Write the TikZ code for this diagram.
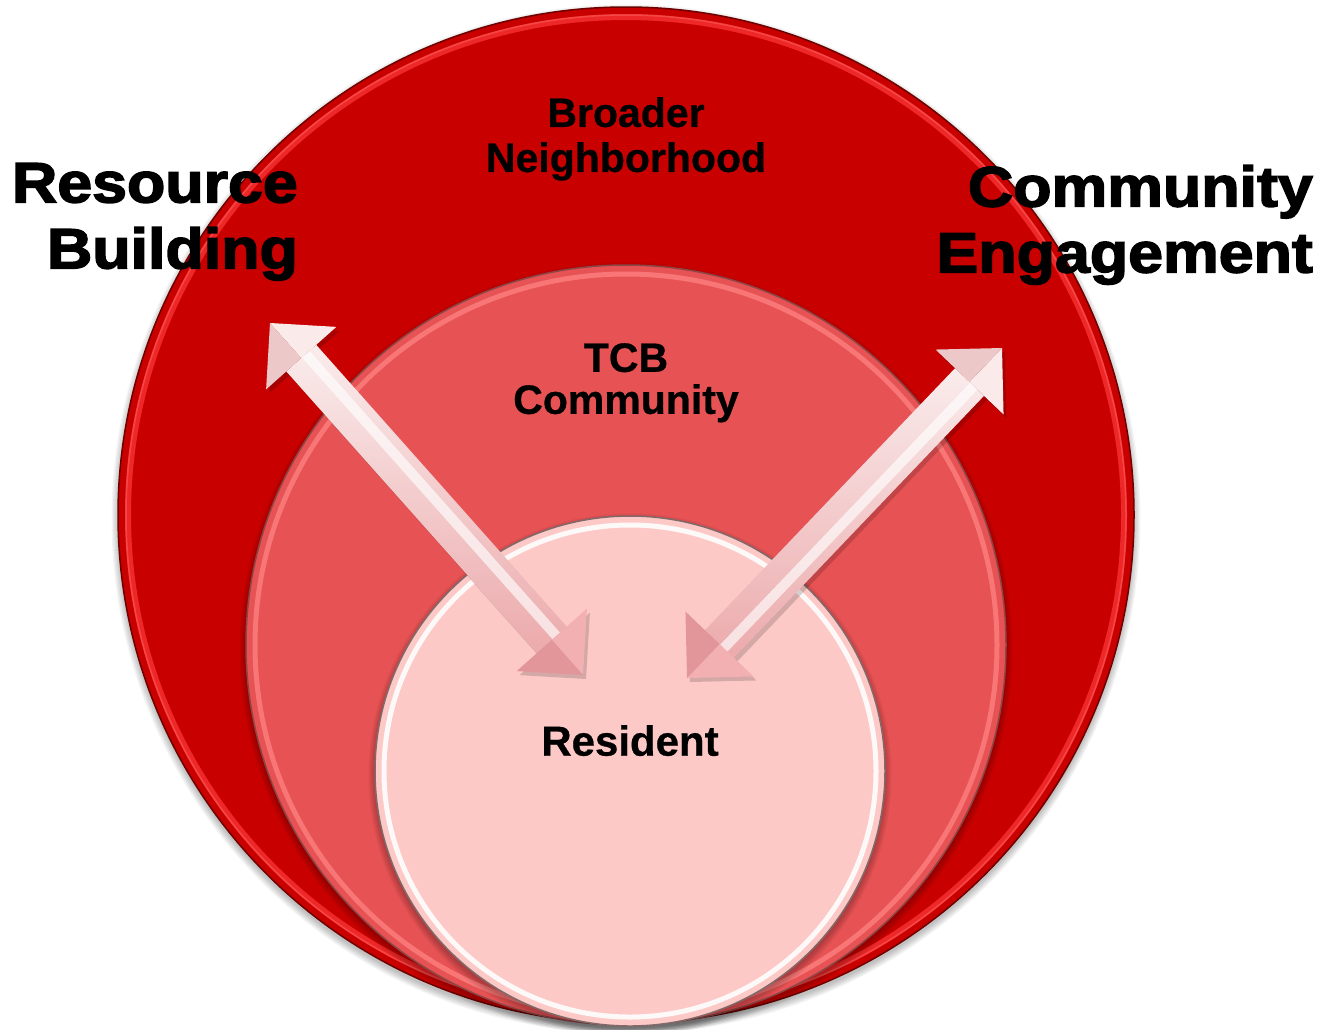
\documentclass[tikz,border=0pt]{standalone}
\usepackage{fontspec}
\setmainfont{Liberation Sans}
\newfontfamily\heavyfont{Liberation Sans}[BoldFeatures={FakeBold=2.5}]
\newfontfamily\lblfont{Liberation Sans}[BoldFeatures={FakeBold=0.6}]
\usetikzlibrary{calc}
\definecolor{bigred}{RGB}{200,0,0}
\definecolor{bigrim}{RGB}{238,40,40}
\definecolor{bigedge}{RGB}{110,0,0}
\definecolor{midred}{RGB}{231,82,84}
\definecolor{midrim}{RGB}{248,118,118}
\definecolor{midedge}{RGB}{140,70,70}
\definecolor{inpink}{RGB}{252,201,199}
\definecolor{inedge}{RGB}{130,105,105}
\definecolor{shafttop}{RGB}{250,236,236}
\definecolor{shaftbot}{RGB}{236,170,172}
\definecolor{headAa}{RGB}{250,234,234}
\definecolor{headAb}{RGB}{236,200,201}
\definecolor{headBa}{RGB}{242,176,178}
\definecolor{headBb}{RGB}{226,150,153}
\newcommand\softshadow[3]{% cx, cy, r
  \foreach \k in {0,...,5}{\fill[black,opacity=0.045] (#1,#2+4) circle (#3+\k*1.3);}}
\newcommand\mkarrow[1]{%
  \coordinate (#1P) at ($(#1A)!47pt!(#1B)$);
  \coordinate (#1Q) at ($(#1B)!47pt!(#1A)$);
  \coordinate (#1Pwl) at ($(#1P)!47pt!90:(#1B)$);
  \coordinate (#1Pwr) at ($(#1P)!47pt!-90:(#1B)$);
  \coordinate (#1Pjl) at ($(#1P)!20pt!90:(#1B)$);
  \coordinate (#1Pjr) at ($(#1P)!20pt!-90:(#1B)$);
  \coordinate (#1Qwl) at ($(#1Q)!47pt!-90:(#1A)$);
  \coordinate (#1Qwr) at ($(#1Q)!47pt!90:(#1A)$);
  \coordinate (#1Qjl) at ($(#1Q)!20pt!-90:(#1A)$);
  \coordinate (#1Qjr) at ($(#1Q)!20pt!90:(#1A)$);
  \begin{scope}[transform canvas={shift={(3pt,-4pt)}}]
    \fill[black,opacity=0.16] (#1A) -- (#1Pwl) -- (#1Pjl) -- (#1Qjl) -- (#1Qwl) -- (#1B)
      -- (#1Qwr) -- (#1Qjr) -- (#1Pjr) -- (#1Pwr) -- cycle;
  \end{scope}
  \shade[top color=shafttop, bottom color=shaftbot] (#1Pjl) -- (#1Qjl) -- (#1Qjr) -- (#1Pjr) -- cycle;
  \draw[white, opacity=0.65, line width=10] ($(#1P)!6pt!90:(#1B)$) -- ($(#1Q)!6pt!-90:(#1A)$);
  \fill[headAa] (#1A) -- (#1Pwl) -- (#1P) -- cycle;
  \fill[headAb] (#1A) -- (#1Pwr) -- (#1P) -- cycle;
  \fill[headBa] (#1B) -- (#1Qwl) -- (#1Q) -- cycle;
  \fill[headBb] (#1B) -- (#1Qwr) -- (#1Q) -- cycle;
}
\tikzset{
  lbl/.style={font=\fontsize{41}{42}\selectfont\lblfont\bfseries, align=center, anchor=north, inner sep=0pt, text=black},
  heading/.style={font=\fontsize{57}{66}\selectfont\heavyfont\bfseries, align=right, anchor=north east, inner sep=0pt, text=black}
}
\begin{document}
\begin{tikzpicture}[x=1pt,y=-1pt]
\useasboundingbox (0,0) rectangle (1322,1029);
\fill[white] (0,0) rectangle (1322,1029);
% outer circle
\coordinate (cbig) at (626,515);
\softshadow{626}{515}{508}
\fill[bigred] (cbig) circle (508);
\draw[bigrim, line width=6] (cbig) circle (498);
\draw[red!60!white, opacity=0.5, line width=1.5] (cbig) circle (500);
\draw[bigedge, line width=1.5] (cbig) circle (508);
% middle circle
\coordinate (cmid) at (626,645);
\softshadow{626}{645}{380}
\fill[midred] (cmid) circle (380);
\draw[midrim, line width=5] (cmid) circle (371);
\draw[midedge, line width=1.5] (cmid) circle (380);
% inner circle
\coordinate (cin) at (630,771);
\softshadow{630}{771}{255}
\fill[inpink] (cin) circle (255);
\draw[white, opacity=0.9, line width=5] (cin) circle (246);
\draw[inedge, line width=1.5] (cin) circle (255);
% arrows
\coordinate (lA) at (270,323);
\coordinate (lB) at (583,675);
\mkarrow{l}
\coordinate (rA) at (1002,348);
\coordinate (rB) at (687,678);
\mkarrow{r}
% labels
\node[lbl, font=\fontsize{41}{45}\selectfont\lblfont\bfseries] (broad) at (626,97) {Broader\\Neighborhood};
\node[lbl] (tcb) at (626,343) {TCB\\Community};
\node[lbl, font=\fontsize{42}{49}\selectfont\lblfont\bfseries] (res) at (630,725) {Resident};
\node[heading] (rb) at (298,163) {\scalebox{1.1}[1]{Resource}\\\scalebox{1.1}[1]{Building}};
\node[heading] (ce) at (1313,165) {\scalebox{1.1}[1]{Community}\\\scalebox{1.1}[1]{Engagement}};
\end{tikzpicture}
\end{document}
